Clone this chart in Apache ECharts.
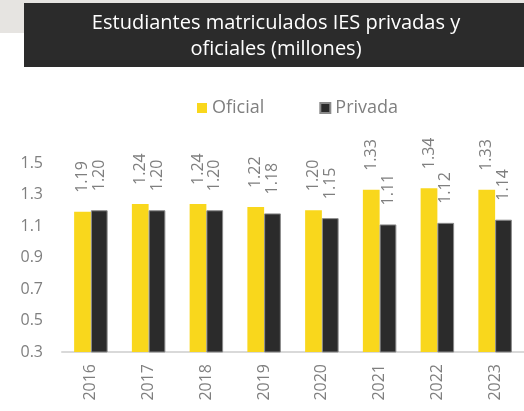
<!DOCTYPE html>
<html>
<head>
<meta charset="utf-8">
<script src="https://cdn.jsdelivr.net/npm/echarts@6/dist/echarts.min.js"></script>
<style>
  html, body { margin: 0; padding: 0; background: #fff; }
  #chart { width: 524px; height: 411px; }
</style>
</head>
<body>
<div id="chart"></div>
<script>
var years = ['2016', '2017', '2018', '2019', '2020', '2021', '2022', '2023']
var oficial = [1.19, 1.24, 1.24, 1.22, 1.20, 1.33, 1.34, 1.33]
var privada = [1.20, 1.20, 1.20, 1.18, 1.15, 1.11, 1.12, 1.14]
var yTicks = [0.3, 0.5, 0.7, 0.9, 1.1, 1.3, 1.5]

var grey = '#7f7f7f'
var font = 'Open Sans'

var barLabel = {
  show: true,
  position: 'top',
  rotate: 90,
  align: 'left',
  verticalAlign: 'middle',
  distance: 19,
  color: grey,
  fontFamily: font,
  fontSize: 16,
  formatter: function (p) { return p.value.toFixed(2) }
}

var myCharts = echarts.init(document.getElementById('chart'))
var options = {
  animation: false,
  graphic: [
    { type: 'rect', shape: { x: 0, y: 0, width: 524, height: 3 }, style: { fill: '#e6e4e1' } },
    { type: 'rect', shape: { x: 0, y: 0, width: 24, height: 33 }, style: { fill: '#e6e4e1' } },
    { type: 'rect', shape: { x: 24, y: 3, width: 500, height: 64 }, style: { fill: '#2b2b2b' } },
    {
      type: 'text', x: 276, y: 36,
      style: {
        text: 'Estudiantes matriculados IES privadas y\noficiales (millones)',
        fill: '#fff', font: '20px "Open Sans"', lineHeight: 26,
        textAlign: 'center', textVerticalAlign: 'middle'
      }
    }
  ],
  legend: {
    top: 94,
    left: 192,
    itemWidth: 10,
    itemHeight: 10,
    itemGap: 55,
    icon: 'rect',
    textStyle: { color: grey, fontFamily: font, fontSize: 18 },
    data: ['Oficial', 'Privada']
  },
  grid: { left: 62, right: -10, top: 163, bottom: 59 },
  xAxis: [{
    type: 'category',
    data: years,
    axisLine: { lineStyle: { color: '#d9d9d9', width: 2 } },
    axisTick: { show: false },
    axisLabel: { rotate: 90, margin: 12, color: grey, fontFamily: font, fontSize: 16 }
  }],
  yAxis: [{
    type: 'value',
    min: 0.3,
    max: 1.5,
    splitLine: { show: false },
    axisLine: { show: false },
    axisTick: { show: false },
    axisLabel: {
      customValues: yTicks,
      margin: 19,
      color: grey,
      fontFamily: font,
      fontSize: 16,
      formatter: function (v) { return v.toFixed(1) }
    }
  }],
  series: [{
    name: 'Oficial',
    type: 'bar',
    barGap: '0%',
    barCategoryGap: '42%',
    itemStyle: { color: '#f9d71c' },
    label: barLabel,
    data: oficial
  }, {
    name: 'Privada',
    type: 'bar',
    itemStyle: { color: '#2b2b2b', borderColor: '#8a8a8a', borderWidth: 1 },
    label: barLabel,
    data: privada
  }]
}
myCharts.setOption(options)
</script>
</body>
</html>
